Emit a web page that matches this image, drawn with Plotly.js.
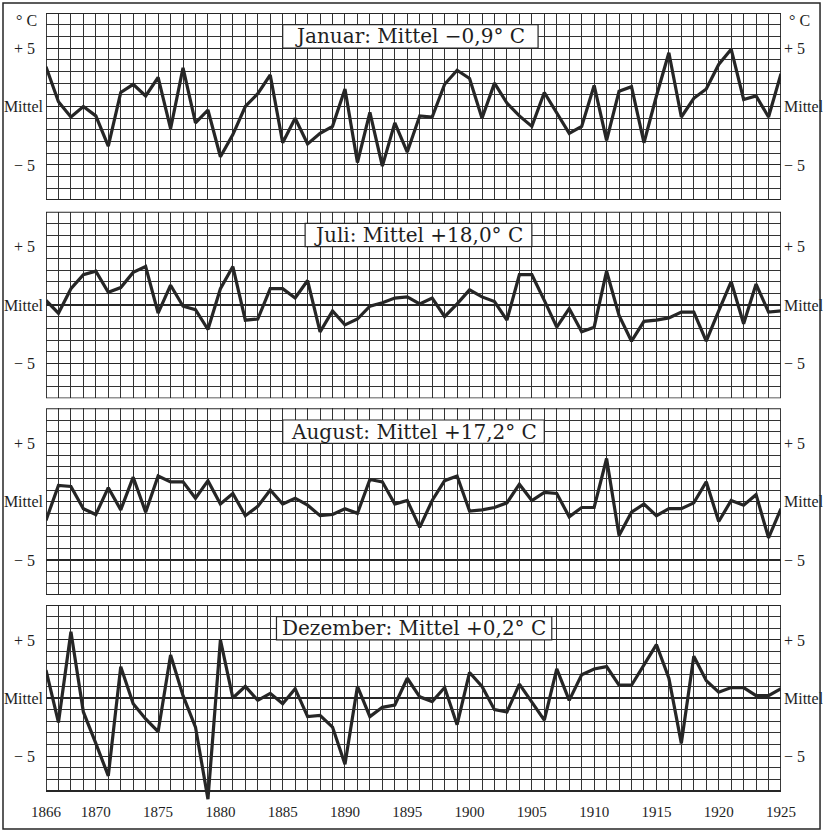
<!DOCTYPE html>
<html><head><meta charset="utf-8">
<script src="https://cdn.plot.ly/plotly-3.0.1.min.js"></script>
<style>html,body{margin:0;padding:0;background:#fff}#chart{width:823px;height:831px}</style>
</head><body><div id="chart"></div>
<script>
// ---- data ----
const years = [1866,1867,1868,1869,1870,1871,1872,1873,1874,1875,1876,1877,1878,1879,1880,
  1881,1882,1883,1884,1885,1886,1887,1888,1889,1890,1891,1892,1893,1894,1895,1896,1897,1898,1899,1900,
  1901,1902,1903,1904,1905,1906,1907,1908,1909,1910,1911,1912,1913,1914,1915,1916,1917,1918,1919,1920,
  1921,1922,1923,1924,1925];
const januar = [3.4,0.4,-0.9,0.0,-0.8,-3.4,1.2,1.9,0.9,2.5,-1.9,3.3,-1.4,-0.3,-4.3,-2.4,0.0,1.1,2.7,-3.1,
  -1.0,-3.2,-2.3,-1.7,1.5,-4.8,-0.5,-5.1,-1.4,-3.9,-0.8,-0.9,1.9,3.1,2.4,-1.0,2.0,0.3,-0.8,-1.7,
  1.2,-0.5,-2.3,-1.7,1.8,-2.9,1.3,1.7,-3.1,0.9,4.6,-0.9,0.7,1.5,3.6,4.9,0.6,0.9,-0.9,2.8];
const juli = [0.4,-0.7,1.4,2.6,2.9,1.1,1.5,2.8,3.3,-0.7,1.7,-0.1,-0.4,-2.1,1.4,3.3,-1.3,-1.2,1.4,1.4,
  0.6,2.1,-2.3,-0.5,-1.7,-1.2,-0.1,0.2,0.6,0.7,0.1,0.6,-1.0,0.1,1.3,0.7,0.3,-1.3,2.6,2.6,
  0.4,-1.9,-0.3,-2.3,-1.9,2.9,-0.9,-3.1,-1.4,-1.3,-1.1,-0.6,-0.6,-3.1,-0.5,2.0,-1.6,1.8,-0.6,-0.5];
const august = [-1.6,1.4,1.3,-0.6,-1.1,1.2,-0.7,2.1,-0.9,2.2,1.7,1.7,0.3,1.8,-0.2,0.7,-1.2,-0.4,1.0,-0.2,
  0.3,-0.3,-1.2,-1.1,-0.6,-1.0,1.9,1.7,-0.2,0.1,-2.2,0.1,1.8,2.2,-0.8,-0.7,-0.5,-0.1,1.5,0.1,
  0.8,0.7,-1.3,-0.5,-0.5,3.7,-2.9,-0.9,-0.2,-1.2,-0.6,-0.6,-0.1,1.7,-1.7,0.1,-0.3,0.6,-3.1,-0.6];
const dezember = [2.4,-2.1,5.7,-1.2,-3.9,-6.7,2.7,-0.5,-1.8,-2.9,3.7,0.2,-2.5,-8.7,5.0,0.0,1.0,-0.2,0.4,-0.5,
  0.8,-1.6,-1.5,-2.5,-5.7,1.0,-1.6,-0.8,-0.6,1.7,0.1,-0.3,0.9,-2.3,2.2,1.0,-1.0,-1.2,1.2,-0.4,
  -1.9,2.5,-0.2,2.0,2.5,2.7,1.1,1.1,2.9,4.6,1.7,-3.9,3.6,1.5,0.5,0.9,0.9,0.2,0.2,0.8];
const panelTitles = ["Januar: Mittel \u22120,9° C", "Juli: Mittel +18,0° C",
  "August: Mittel +17,2° C", "Dezember: Mittel +0,2° C"];
const yTickVals = [5, 0, -5];
const yTickTextLeft = ["+ 5\u00a0\u00a0", "Mittel", "\u2212 5\u00a0\u00a0"];
const yTickTextRight = ["+ 5", "Mittel", "\u2212 5"];
const xTickVals = [1866,1870,1875,1880,1885,1890,1895,1900,1905,1910,1915,1920,1925];
const unitLabel = "° C";

// ---- layout helpers ----
const series = [januar, juli, august, dezember];
const domains = [[0.7627,1.0],[0.5110,0.7478],[0.2614,0.4983],[0.0,0.2487]];
const yRanges = [[-8,8],[-8,8],[-8,8],[-8.86,8]];
const boxes = [[1885,1905.5],[1886.8,1905],[1885,1906],[1884.5,1906.6]];
const ink = '#262626';
const gridCol = '#333333';
const tickFont = {family:'Liberation Serif, serif', size:15, color:'#1e1e1e'};
const bigTickFont = {family:'Liberation Serif, serif', size:16, color:'#1e1e1e'};

const traces = [];
const layout = {
  width:823, height:831,
  margin:{l:46, r:42, t:13, b:30},
  paper_bgcolor:'#fff', plot_bgcolor:'#fff',
  showlegend:false,
  shapes:[], annotations:[]
};

for (let i = 0; i < 4; i++) {
  const n = i + 1;
  const xa = n === 1 ? 'x' : 'x' + n;
  const ya = n === 1 ? 'y' : 'y' + n;
  const yr = 'y' + (n + 4);
  traces.push({x: years, y: series[i], xaxis: xa, yaxis: ya, type:'scatter', mode:'lines',
    line:{color:ink, width:3.2}, hoverinfo:'skip'});
  traces.push({x: [], y: [], xaxis: xa, yaxis: yr, type:'scatter', mode:'lines', hoverinfo:'skip'});

  layout['xaxis' + (n === 1 ? '' : n)] = {
    domain:[0,1], anchor: ya, range:[1866,1925],
    tickmode:'array', tickvals: xTickVals, ticktext: xTickVals.map(String),
    showticklabels: n === 4, ticks:'', tickfont: tickFont,
    showgrid:true, gridcolor:gridCol, gridwidth:1,
    minor:{tick0:1866, dtick:1, showgrid:true, gridcolor:gridCol, gridwidth:1, ticks:''},
    zeroline:false, showline:false, fixedrange:true
  };
  layout['yaxis' + (n === 1 ? '' : n)] = {
    domain: domains[i], anchor: xa, range: yRanges[i],
    tickmode:'array', tickvals: yTickVals, ticktext: yTickTextLeft,
    ticks:'', tickfont: bigTickFont, ticklabelstandoff: 2,
    showgrid:true, gridcolor:ink, gridwidth:1.1,
    minor:{tick0:0, dtick:1, showgrid:true, gridcolor:gridCol, gridwidth:1, ticks:''},
    zeroline:false, showline:false, fixedrange:true
  };
  layout['yaxis' + (n + 4)] = {
    overlaying: ya, side:'right', anchor: xa, range: yRanges[i],
    tickmode:'array', tickvals: yTickVals, ticktext: yTickTextRight,
    ticks:'', tickfont: bigTickFont, ticklabelstandoff: 2,
    showgrid:false, zeroline:false, showline:false, fixedrange:true
  };
  if (yRanges[i][0] < -8) {
    layout.shapes.push({type:'rect', xref:xa, yref:ya, x0:1860, x1:1930, y0:-12, y1:-8,
      fillcolor:'#fff', line:{width:0}, layer:'between'});
  }
  layout.shapes.push({type:'rect', xref:xa, yref:ya, x0:1866, x1:1925, y0:-8, y1:8,
    line:{color:ink, width:1.8}, fillcolor:'rgba(0,0,0,0)', layer:'between'});
  layout.shapes.push({type:'rect', xref:xa, yref:ya, x0:boxes[i][0], x1:boxes[i][1], y0:5, y1:7,
    fillcolor:'#fff', line:{color:ink, width:1.2}, layer:'between'});
  layout.annotations.push({xref:xa, yref:ya, x:(boxes[i][0]+boxes[i][1])/2, y:6,
    text: panelTitles[i], showarrow:false, xanchor:'center', yanchor:'middle',
    font:{family:'DejaVu Serif, serif', size:20, color:'#1e1e1e'}});
}
layout.annotations.push({xref:'paper', yref:'paper', x:-0.0259, y:0.9911, text:unitLabel,
  showarrow:false, xanchor:'center', yanchor:'middle', font:bigTickFont});
layout.annotations.push({xref:'paper', yref:'paper', x:1.0245, y:0.9911, text:unitLabel,
  showarrow:false, xanchor:'center', yanchor:'middle', font:bigTickFont});
layout.shapes.push({type:'rect', xref:'paper', yref:'paper', x0:-0.0585, x1:1.0531, y0:-0.0355, y1:1.0127,
  line:{color:ink, width:1.5}, fillcolor:'rgba(0,0,0,0)', layer:'above'});

Plotly.newPlot('chart', traces, layout, {staticPlot:true, displayModeBar:false});
</script>
</body></html>
